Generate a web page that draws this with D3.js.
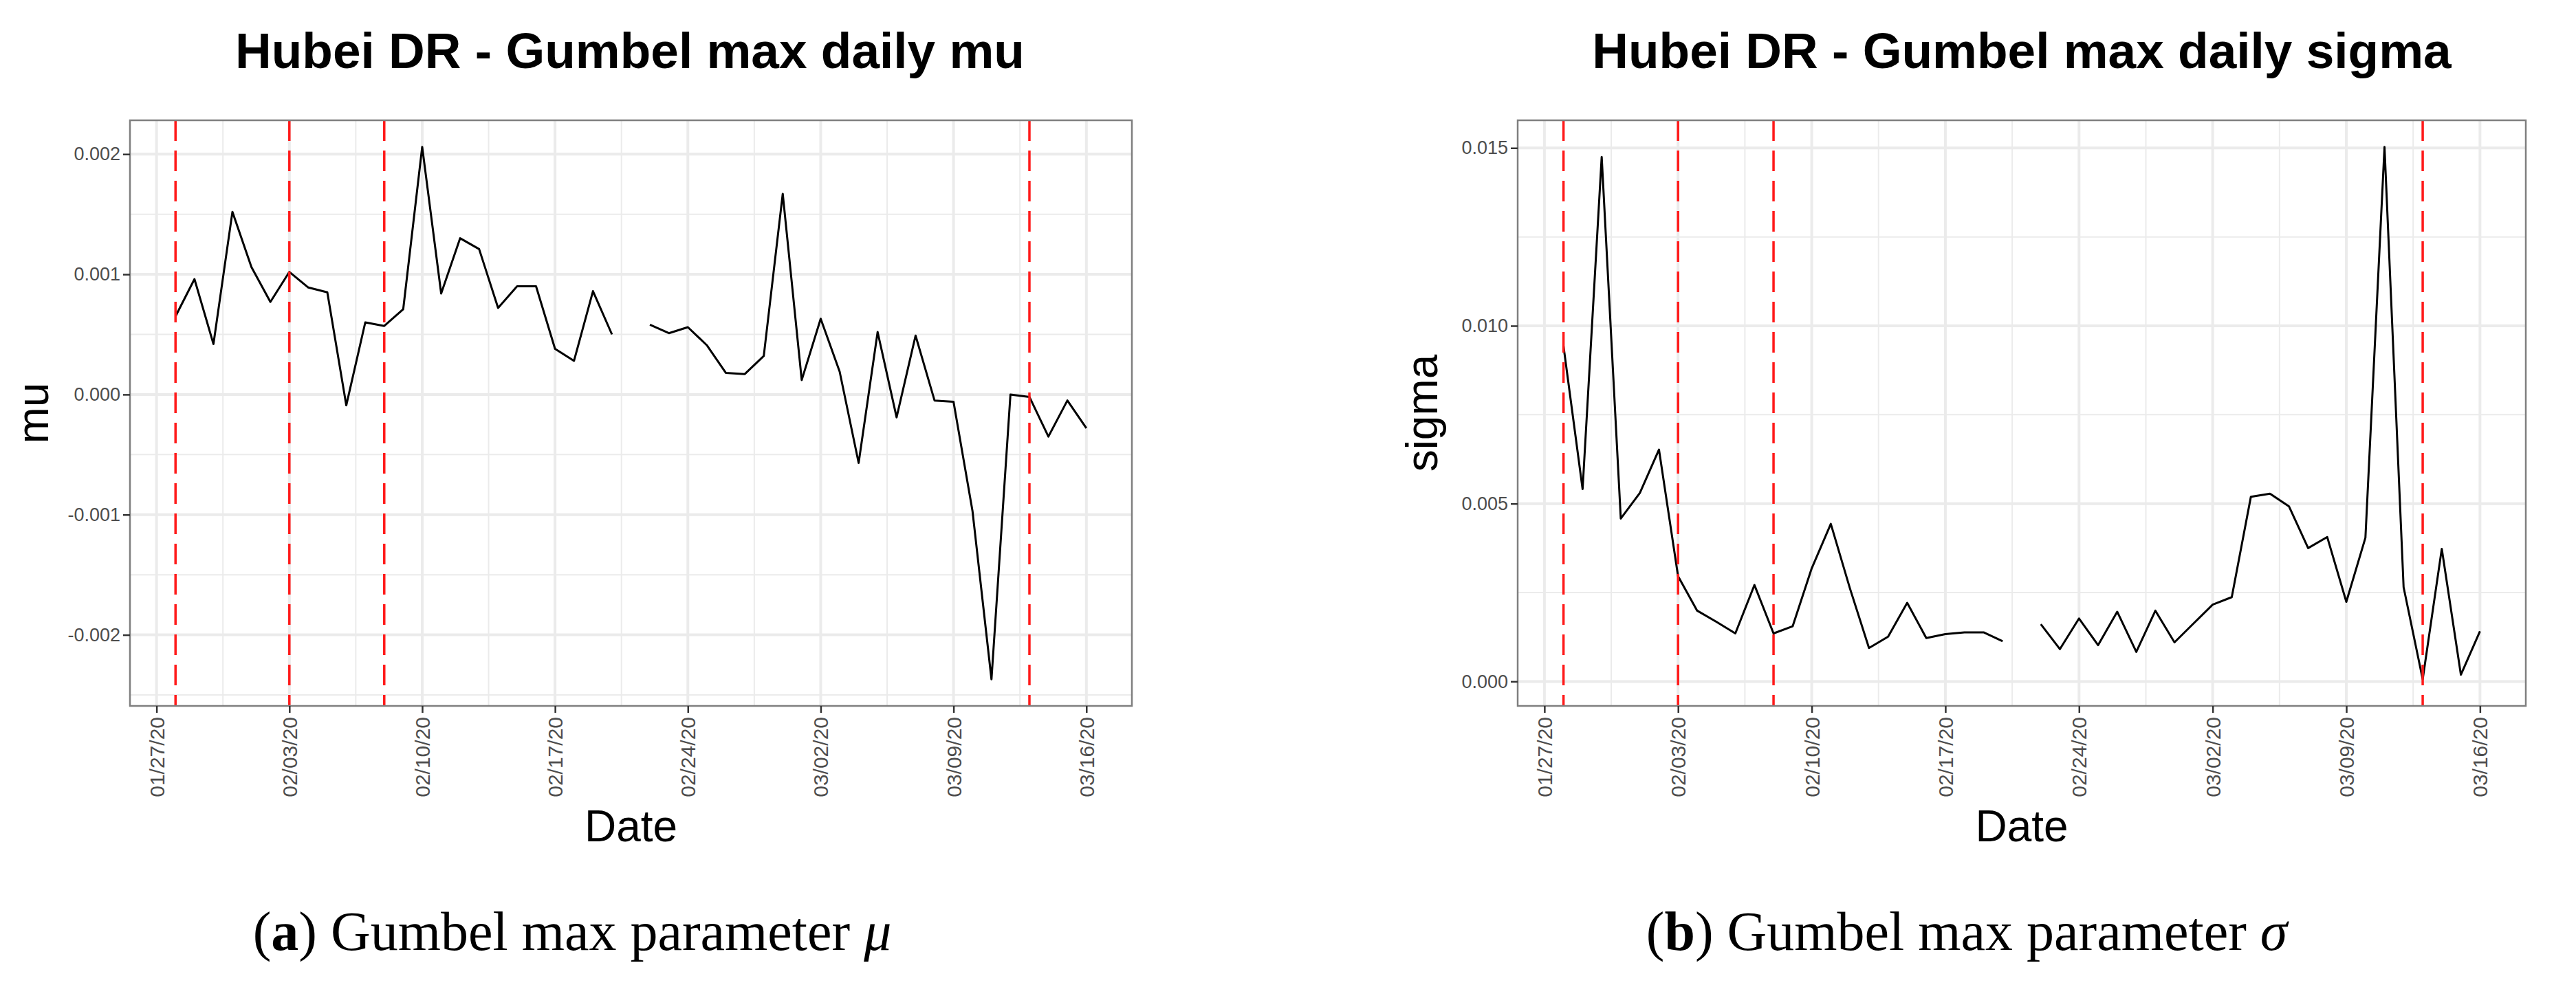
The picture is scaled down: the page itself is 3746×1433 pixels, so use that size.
<!DOCTYPE html>
<html><head><meta charset="utf-8">
<script src="https://cdn.jsdelivr.net/npm/d3@7"></script>
<style>body{margin:0;background:#fff}</style>
</head><body>
<svg id="c" width="3746" height="1433"></svg>
<script>
const dates = ["2020-01-28","2020-01-29","2020-01-30","2020-01-31","2020-02-01","2020-02-02","2020-02-03","2020-02-04","2020-02-05","2020-02-06","2020-02-07","2020-02-08","2020-02-09","2020-02-10","2020-02-11","2020-02-12","2020-02-13","2020-02-14","2020-02-15","2020-02-16","2020-02-17","2020-02-18","2020-02-19","2020-02-20","2020-02-21","2020-02-22","2020-02-23","2020-02-24","2020-02-25","2020-02-26","2020-02-27","2020-02-28","2020-02-29","2020-03-01","2020-03-02","2020-03-03","2020-03-04","2020-03-05","2020-03-06","2020-03-07","2020-03-08","2020-03-09","2020-03-10","2020-03-11","2020-03-12","2020-03-13","2020-03-14","2020-03-15","2020-03-16"];
const muValues = [0.00065,0.00096,0.00042,0.00152,0.00106,0.00077,0.00102,0.00089,0.00085,-0.00009,0.00060,0.00057,0.00071,0.00206,0.00084,0.00130,0.00121,0.00072,0.00090,0.00090,0.00038,0.00028,0.00086,0.00050,null,0.00058,0.00051,0.00056,0.00041,0.00018,0.00017,0.00032,0.00167,0.00012,0.00063,0.00019,-0.00057,0.00052,-0.00019,0.00049,-0.00005,-0.00006,-0.00097,-0.00237,0.00000,-0.00002,-0.00035,-0.00005,-0.00028];
const sigmaValues = [0.00943,0.00541,0.01475,0.00458,0.00530,0.00652,0.00296,0.00199,0.00168,0.00135,0.00271,0.00135,0.00155,0.00318,0.00443,0.00262,0.00094,0.00126,0.00221,0.00122,0.00133,0.00138,0.00138,0.00113,null,0.00161,0.00091,0.00177,0.00102,0.00196,0.00083,0.00199,0.00110,0.00163,0.00216,0.00237,0.00519,0.00528,0.00492,0.00375,0.00406,0.00224,0.00404,0.01503,0.00265,0.00006,0.00373,0.00019,0.00141];
const changeDates = ["2020-01-28","2020-02-03","2020-02-08","2020-03-13"];
const xTickDates = ["2020-01-27","2020-02-03","2020-02-10","2020-02-17","2020-02-24","2020-03-02","2020-03-09","2020-03-16"];
const muTicks = [-0.002,-0.001,0,0.001,0.002];
const sigmaTicks = [0,0.005,0.010,0.015];

const svg = d3.select("#c");
const parse = d3.utcParse("%Y-%m-%d");
const fmtDate = d3.utcFormat("%m/%d/%y");
const DAY = 864e5;
const fmtY = v => d3.format(".3f")(v).replace("−","-");
const SANS = "Liberation Sans, Arial, sans-serif";

function panel(o){
  const {L,R,T,B,values,ticks,title,ylab,titleX,capX,capLetter,capSym,ylabX} = o;
  const g = svg.append("g");
  const d0 = parse(dates[0]), d1 = parse(dates[dates.length-1]);
  const span = (d1-d0)*0.05;
  const x = d3.scaleUtc().domain([new Date(+d0-span), new Date(+d1+span)]).range([L,R]);
  const ext = d3.extent(values.filter(v=>v!=null));
  const pad = (ext[1]-ext[0])*0.05;
  const y = d3.scaleLinear().domain([ext[0]-pad, ext[1]+pad]).range([B,T]);
  const minorX = xTickDates.slice(0,-1).map(d=>new Date(+parse(d)+3.5*DAY));
  minorX.unshift(new Date(+parse(xTickDates[0])-3.5*DAY));
  minorX.filter(d=>x(d)>L && x(d)<R).forEach(d=>g.append("line").attr("x1",x(d)).attr("x2",x(d)).attr("y1",T).attr("y2",B).attr("stroke","#ebebeb").attr("stroke-width",2));
  const step = ticks[1]-ticks[0];
  const minorY = [ticks[0]-step/2, ...ticks.map(t=>t+step/2)];
  minorY.filter(v=>y(v)>T && y(v)<B).forEach(v=>g.append("line").attr("x1",L).attr("x2",R).attr("y1",y(v)).attr("y2",y(v)).attr("stroke","#ebebeb").attr("stroke-width",2));
  xTickDates.forEach(d=>g.append("line").attr("x1",x(parse(d))).attr("x2",x(parse(d))).attr("y1",T).attr("y2",B).attr("stroke","#ebebeb").attr("stroke-width",4));
  ticks.forEach(v=>g.append("line").attr("x1",L).attr("x2",R).attr("y1",y(v)).attr("y2",y(v)).attr("stroke","#ebebeb").attr("stroke-width",4));
  const line = d3.line().defined(v=>v!=null).x((v,i)=>x(parse(dates[i]))).y(v=>y(v));
  g.append("path").datum(values).attr("d",line).attr("fill","none").attr("stroke","#000").attr("stroke-width",3).attr("stroke-linejoin","round");
  changeDates.forEach(d=>g.append("line").attr("x1",x(parse(d))).attr("x2",x(parse(d))).attr("y1",T).attr("y2",B).attr("stroke","#ff1a1a").attr("stroke-width",3.5).attr("stroke-dasharray","30,14"));
  g.append("rect").attr("x",L).attr("y",T).attr("width",R-L).attr("height",B-T).attr("fill","none").attr("stroke","#7f7f7f").attr("stroke-width",2.5);
  const xa = g.append("g").attr("transform",`translate(0,${B})`).call(d3.axisBottom(x).tickValues(xTickDates.map(parse)).tickFormat(fmtDate).tickSize(10).tickSizeOuter(0));
  xa.select(".domain").remove();
  xa.selectAll("line").attr("stroke","#333").attr("stroke-width",2.5);
  xa.selectAll("text").attr("transform","rotate(-90)").attr("x",-16).attr("y",0).attr("dy","0.35em").attr("text-anchor","end")
    .style("font-family",SANS).style("font-size","30px").attr("fill","#4d4d4d");
  const ya = g.append("g").attr("transform",`translate(${L},0)`).call(d3.axisLeft(y).tickValues(ticks).tickFormat(fmtY).tickSize(10).tickSizeOuter(0));
  ya.select(".domain").remove();
  ya.selectAll("line").attr("stroke","#333").attr("stroke-width",2.5);
  ya.selectAll("text").style("font-family",SANS).style("font-size","27px").attr("fill","#4d4d4d").attr("x",-14);
  svg.append("text").attr("x",titleX).attr("y",99).attr("text-anchor","middle").style("font-family",SANS).style("font-weight","bold").style("font-size","73px").text(title);
  svg.append("text").attr("x",(L+R)/2).attr("y",1224).attr("text-anchor","middle").style("font-family",SANS).style("font-size","64px").text("Date");
  svg.append("text").attr("transform",`translate(${ylabX},${(T+B)/2}) rotate(-90)`).attr("text-anchor","middle").style("font-family",SANS).style("font-size","64px").text(ylab);
  const cap = svg.append("text").attr("x",capX).attr("y",1382).attr("text-anchor","middle").style("font-family","Liberation Serif, serif").style("font-size","80px");
  cap.append("tspan").text("(");
  cap.append("tspan").style("font-weight","bold").text(capLetter);
  cap.append("tspan").text(") Gumbel max parameter ");
  cap.append("tspan").style("font-style","italic").text(capSym);
}
panel({L:189,R:1646,T:175,B:1027,values:muValues,ticks:muTicks,title:"Hubei DR - Gumbel max daily mu",ylab:"mu",titleX:916,capX:832,capLetter:"a",capSym:"μ",ylabX:70});
panel({L:2207,R:3673,T:175,B:1027,values:sigmaValues,ticks:sigmaTicks,title:"Hubei DR - Gumbel max daily sigma",ylab:"sigma",titleX:2940,capX:2860,capLetter:"b",capSym:"σ",ylabX:2090});
</script>
</body></html>
